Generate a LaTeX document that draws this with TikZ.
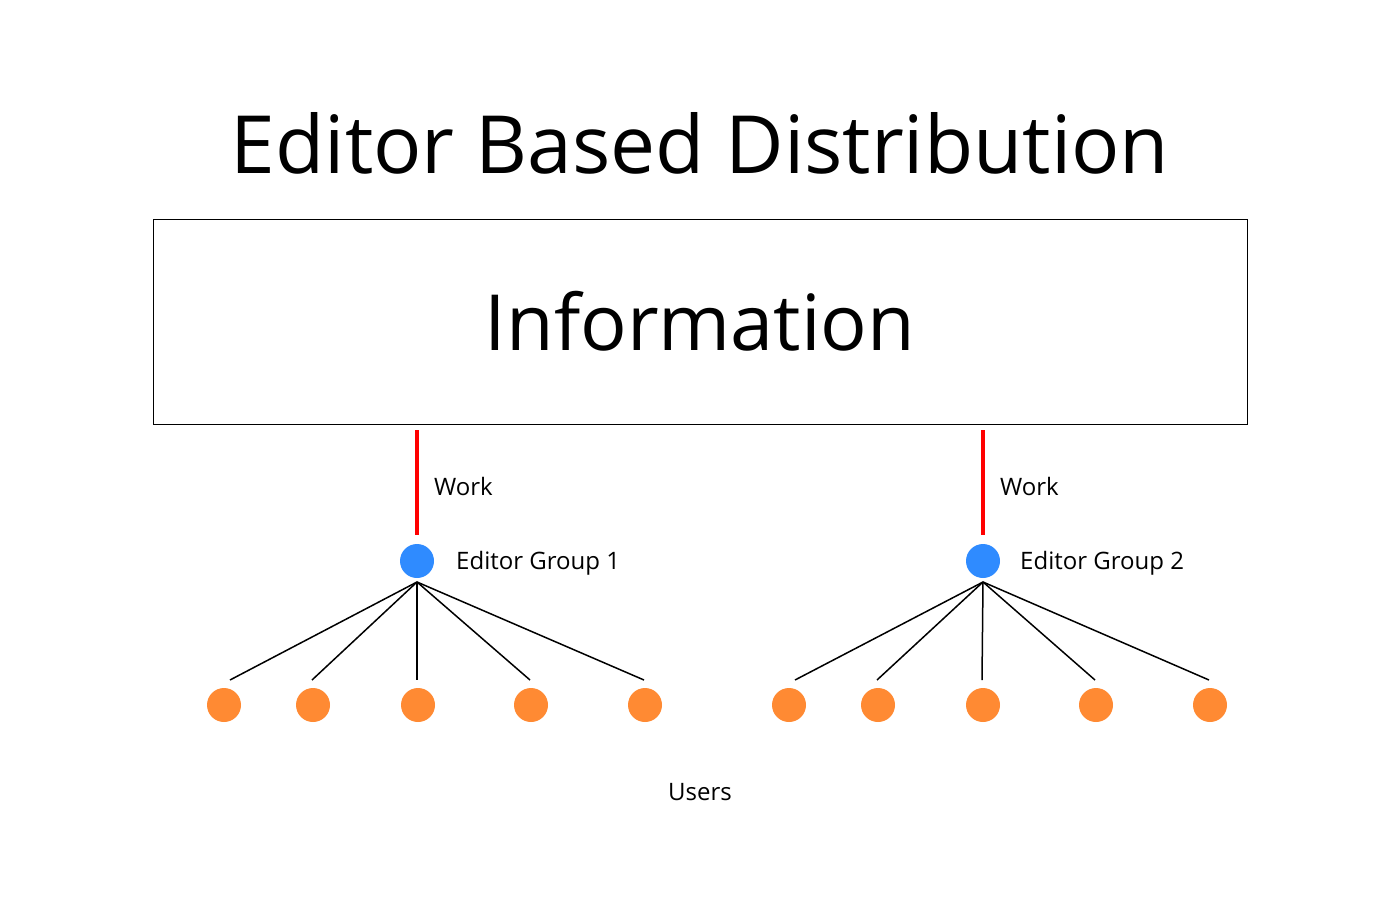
\documentclass[tikz,border=0pt]{standalone}
\usepackage{fontspec}
\setmainfont{Open Sans}
\definecolor{edblue}{HTML}{2F8BFF}
\definecolor{usorange}{HTML}{FF8A33}
\definecolor{workred}{HTML}{FF0000}
\begin{document}
\begin{tikzpicture}[x=1pt,y=-1pt,
  editor/.style={circle,fill=edblue,minimum size=34pt,inner sep=0pt},
  user/.style={circle,fill=usorange,minimum size=34pt,inner sep=0pt},
  worklink/.style={draw=workred,line width=4pt},
  fan/.style={draw=black,line width=1.5pt},
  lbl/.style={font=\fontsize{24}{28}\selectfont,anchor=west,inner sep=0pt}]
\useasboundingbox (0,0) rectangle (1400,900);
\node[font=\fontsize{80.3}{92}\selectfont] (title) at (700,143) {Editor Based Distribution};
\node[draw=black,line width=1pt,minimum width=1094pt,minimum height=205pt,inner sep=0pt,
  font=\fontsize{77.5}{90}\selectfont] (info) at (700,321.5) {Information};
% group 1
\node[editor] (e1) at (417,561) {};
\node[lbl] (g1) at (456,563) {Editor Group 1};
\coordinate (w1top) at (417,430);
\coordinate (w1bot) at (417,535);
\draw[worklink] (w1top) -- (w1bot);
\node[lbl] (work1) at (434,486) {Work};
\coordinate (f1) at (417,582);
\foreach \i/\ux/\lx in {1/224/230,2/313/312,3/418/417,4/531/530,5/645/644}{
  \node[user] (u1\i) at (\ux,705) {};
  \coordinate (l1\i) at (\lx,680);
  \draw[fan] (f1) -- (l1\i);
}
% group 2
\node[editor] (e2) at (983,561) {};
\node[lbl] (g2) at (1020,563) {Editor Group 2};
\coordinate (w2top) at (983,430);
\coordinate (w2bot) at (983,535);
\draw[worklink] (w2top) -- (w2bot);
\node[lbl] (work2) at (1000,486) {Work};
\coordinate (f2) at (983,582);
\foreach \i/\ux/\lx in {1/789/795,2/878/877,3/983/982,4/1096/1095,5/1210/1209}{
  \node[user] (u2\i) at (\ux,705) {};
  \coordinate (l2\i) at (\lx,680);
  \draw[fan] (f2) -- (l2\i);
}
\node[font=\fontsize{24}{28}\selectfont] (users) at (700,792) {Users};
\end{tikzpicture}
\end{document}
